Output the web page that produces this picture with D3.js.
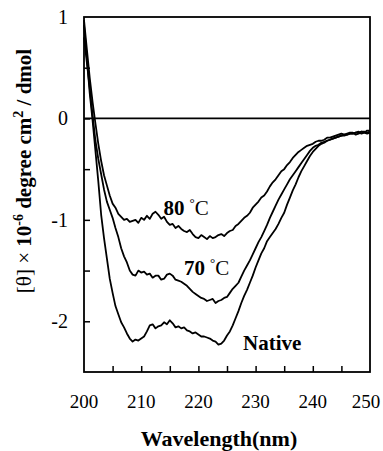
<!DOCTYPE html>
<html>
<head>
<meta charset="utf-8">
<script src="https://cdn.jsdelivr.net/npm/d3@7"></script>
<style>
  body { margin: 0; background: #fff; }
</style>
</head>
<body>
<svg id="chart" width="383" height="451"></svg>
<script>
// Wavelength grid (nm), 0.5 nm steps
const wavelengths = d3.range(200, 250.25, 0.5);

// [θ] x 10^-6
const native = [0.92,0.60,0.25,-0.02,-0.32,-0.62,-0.95,-1.18,-1.38,-1.58,-1.72,-1.85,-1.93,-2.01,-2.06,-2.12,-2.17,-2.20,-2.18,-2.19,
  -2.17,-2.15,-2.10,-2.04,-2.03,-2.07,-2.05,-2.04,-2.01,-2.03,-1.99,-2.02,-2.06,-2.05,-2.07,-2.06,-2.09,-2.10,-2.12,-2.11,
  -2.13,-2.15,-2.15,-2.16,-2.17,-2.19,-2.20,-2.23,-2.22,-2.19,-2.14,-2.10,-2.04,-1.97,-1.90,-1.82,-1.75,-1.69,-1.62,-1.55,
  -1.47,-1.40,-1.33,-1.28,-1.21,-1.17,-1.13,-1.09,-1.04,-0.98,-0.93,-0.85,-0.78,-0.71,-0.65,-0.58,-0.52,-0.47,-0.42,-0.37,
  -0.33,-0.30,-0.27,-0.25,-0.24,-0.22,-0.21,-0.20,-0.19,-0.18,-0.17,-0.17,-0.16,-0.15,-0.15,-0.14,-0.13,-0.15,-0.14,-0.12,-0.12];
const t70 = [0.80,0.55,0.30,0.03,-0.22,-0.40,-0.55,-0.70,-0.82,-0.90,-0.98,-1.08,-1.17,-1.28,-1.36,-1.42,-1.50,-1.54,-1.55,-1.50,
  -1.52,-1.51,-1.54,-1.53,-1.57,-1.55,-1.55,-1.59,-1.58,-1.54,-1.53,-1.55,-1.59,-1.60,-1.61,-1.63,-1.65,-1.68,-1.71,-1.73,
  -1.75,-1.77,-1.78,-1.80,-1.79,-1.78,-1.82,-1.80,-1.79,-1.77,-1.76,-1.72,-1.68,-1.65,-1.62,-1.56,-1.50,-1.45,-1.40,-1.34,
  -1.28,-1.22,-1.17,-1.11,-1.05,-0.98,-0.92,-0.86,-0.80,-0.75,-0.70,-0.65,-0.60,-0.56,-0.52,-0.48,-0.44,-0.40,-0.36,-0.32,
  -0.29,-0.27,-0.26,-0.24,-0.23,-0.22,-0.21,-0.20,-0.19,-0.18,-0.17,-0.16,-0.16,-0.15,-0.15,-0.14,-0.14,-0.13,-0.13,-0.14,-0.13];
const t80 = [0.97,0.68,0.40,0.16,-0.05,-0.25,-0.42,-0.56,-0.66,-0.76,-0.84,-0.88,-0.94,-0.97,-1.00,-0.99,-1.02,-1.01,-1.00,-1.03,
  -0.98,-1.00,-0.96,-0.99,-0.94,-0.92,-0.95,-0.99,-0.97,-1.02,-1.05,-1.04,-1.08,-1.06,-1.09,-1.11,-1.12,-1.10,-1.14,-1.17,
  -1.18,-1.15,-1.17,-1.19,-1.16,-1.18,-1.17,-1.15,-1.14,-1.16,-1.13,-1.11,-1.10,-1.06,-1.04,-1.01,-0.98,-0.96,-0.93,-0.88,
  -0.85,-0.82,-0.78,-0.76,-0.72,-0.67,-0.63,-0.60,-0.56,-0.52,-0.50,-0.46,-0.43,-0.39,-0.36,-0.33,-0.31,-0.29,-0.27,-0.26,
  -0.25,-0.23,-0.22,-0.22,-0.21,-0.19,-0.19,-0.18,-0.17,-0.16,-0.15,-0.16,-0.15,-0.14,-0.14,-0.16,-0.15,-0.13,-0.14,-0.15,-0.14];

const xTicks = [200, 210, 220, 230, 240, 250];
const yTicks = [1, 0, -1, -2];

// Curve labels: [text, wavelength, value]
const labels = [["80", 213.9, -0.95], ["70", 217.5, -1.54], ["Native", 227.8, -2.28]];

const serif = "Liberation Serif";
const svg = d3.select("#chart");

const x = d3.scaleLinear().domain([200, 250]).range([84, 370]);
const y = d3.scaleLinear().domain([-2.5, 1]).range([372, 17]);

// Curves
const line = d3.line()
  .x((d, i) => x(wavelengths[i]))
  .y(d => y(d));

svg.selectAll("path.curve")
  .data([native, t70, t80])
  .join("path")
  .attr("class", "curve")
  .attr("d", line)
  .attr("fill", "none")
  .attr("stroke", "#000")
  .attr("stroke-width", 1.8)
  .attr("stroke-linejoin", "round");

// Zero line
svg.append("line")
  .attr("x1", x(200)).attr("x2", x(250))
  .attr("y1", y(0)).attr("y2", y(0))
  .attr("stroke", "#000").attr("stroke-width", 1.8);

// Frame
svg.append("rect")
  .attr("x", x(200)).attr("y", y(1))
  .attr("width", x(250) - x(200)).attr("height", y(-2.5) - y(1))
  .attr("fill", "none").attr("stroke", "#000").attr("stroke-width", 1.8);

// Axes with inward ticks
const xAxis = d3.axisTop(x).tickValues(d3.range(205, 250, 5)).tickSize(6).tickFormat("");
svg.append("g").attr("transform", `translate(0,${y(-2.5)})`).call(xAxis)
  .call(g => g.select(".domain").remove())
  .call(g => g.selectAll("line").attr("stroke-width", 1.5));

const yAxis = d3.axisRight(y).tickValues(d3.range(-2, 1, 0.5)).tickSize(6).tickFormat("");
svg.append("g").attr("transform", `translate(${x(200)},0)`).call(yAxis)
  .call(g => g.select(".domain").remove())
  .call(g => g.selectAll("line").attr("stroke-width", 1.5));

// Tick labels (last one nudged in so it stays on the page)
svg.selectAll("text.xt")
  .data(xTicks)
  .join("text")
  .attr("class", "xt")
  .style("font-family", serif)
  .attr("x", d => x(d) - (d === 250 ? 4 : 0))
  .attr("y", 408)
  .attr("text-anchor", "middle")
  .attr("font-size", 19)
  .text(d => d);

svg.selectAll("text.yt")
  .data(yTicks)
  .join("text")
  .attr("class", "yt")
  .style("font-family", serif)
  .attr("x", 68)
  .attr("y", d => y(d) + 7)
  .attr("text-anchor", "end")
  .attr("font-size", 20)
  .text(d => d);

// Curve labels
labels.forEach(([t, wl, v]) => {
  const tx = svg.append("text")
    .style("font-family", serif)
    .attr("x", x(wl)).attr("y", y(v))
    .attr("font-size", 21).attr("font-weight", "bold");
  tx.append("tspan").text(t);
  if (t !== "Native") {
    tx.append("tspan").attr("dx", 5).attr("dy", -8).attr("font-size", 13).attr("font-weight", "normal").text("°");
    tx.append("tspan").attr("dy", 8).attr("font-weight", "normal").text("C");
  }
});

// Axis titles
svg.append("text")
  .style("font-family", serif)
  .attr("x", 219).attr("y", 446)
  .attr("text-anchor", "middle")
  .attr("font-size", 22).attr("font-weight", "bold")
  .text("Wavelength(nm)");

const yl = svg.append("text")
  .style("font-family", serif)
  .attr("transform", "translate(31,171) rotate(-90)")
  .attr("text-anchor", "middle")
  .attr("font-size", 21);
yl.append("tspan").text("[θ] × ");
yl.append("tspan").attr("font-weight", "bold").text("10");
yl.append("tspan").attr("font-weight", "bold").attr("font-size", 14).attr("dy", -8).text("-6");
yl.append("tspan").attr("font-weight", "bold").attr("dy", 8).text(" degree cm");
yl.append("tspan").attr("font-weight", "bold").attr("font-size", 14).attr("dy", -8).text("2");
yl.append("tspan").attr("font-weight", "bold").attr("dy", 8).text(" / dmol");
</script>
</body>
</html>
